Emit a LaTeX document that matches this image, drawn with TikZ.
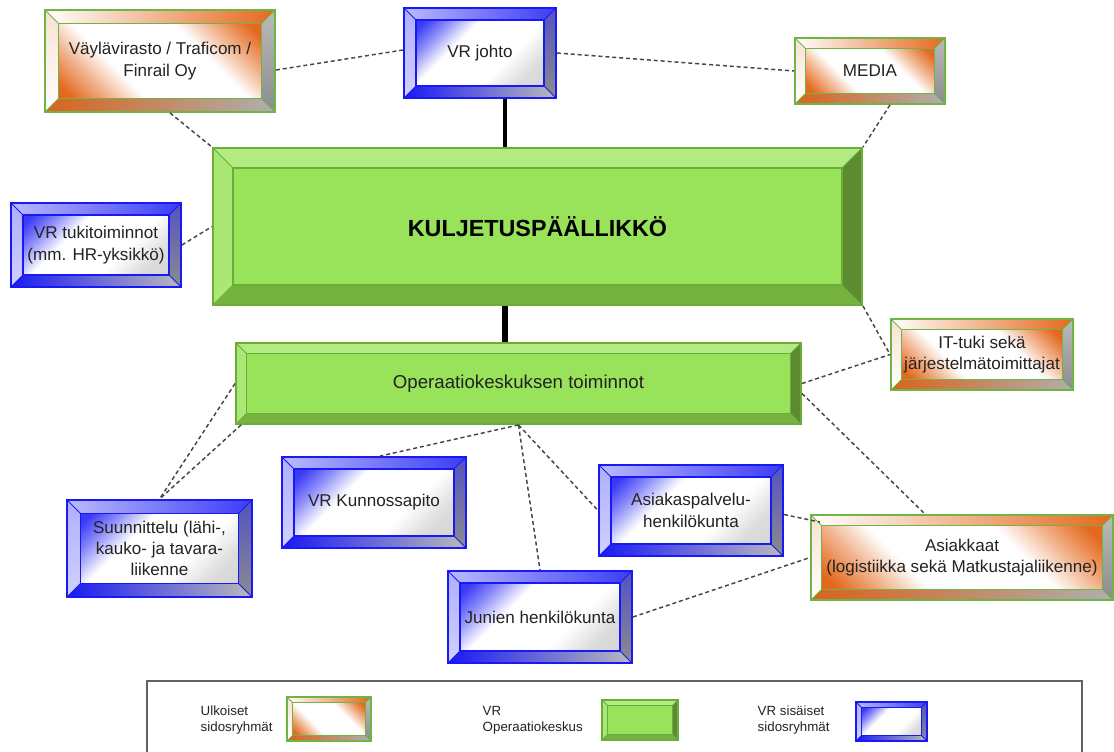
\documentclass[tikz,border=0pt]{standalone}
\usepackage{fontspec}
\setmainfont{Liberation Sans}
\usetikzlibrary{calc}

\definecolor{vface}{RGB}{152,227,90}
\definecolor{vtop}{RGB}{178,235,130}
\definecolor{vleft}{RGB}{170,232,118}
\definecolor{vbot}{RGB}{118,178,62}
\definecolor{vright}{RGB}{92,140,48}
\definecolor{vline}{RGB}{108,172,58}
\definecolor{oranssi}{RGB}{228,105,30}
\definecolor{oline}{RGB}{112,180,70}
\definecolor{sini}{RGB}{25,25,245}
\definecolor{harmaa}{RGB}{140,140,140}
\definecolor{teksti}{RGB}{35,35,35}
\definecolor{katko}{RGB}{70,70,70}

% pintojen liukuvärit
\pgfdeclarehorizontalshading{opinta}{100bp}{color(0bp)=(oranssi); color(18bp)=(oranssi);
  color(27bp)=(oranssi!55); color(37bp)=(white); color(63bp)=(white);
  color(73bp)=(oranssi!55); color(82bp)=(oranssi); color(100bp)=(oranssi)}
\pgfdeclarehorizontalshading{spinta}{100bp}{color(0bp)=(sini!90); color(18bp)=(sini!85);
  color(27bp)=(sini!50); color(38bp)=(white); color(62bp)=(white);
  color(75bp)=(harmaa!30); color(100bp)=(harmaa!45)}

% viistetty laatikko: pinta, ylä, vasen, ala, oikea, viivan väri
\newcommand{\viiste}[6]{%
  \path (path picture bounding box.north west) coordinate (nw)
        (path picture bounding box.north east) coordinate (ne)
        (path picture bounding box.south west) coordinate (sw)
        (path picture bounding box.south east) coordinate (se)
        ($(nw)+(\bevw,-\bevw)$) coordinate (inw)
        ($(ne)+(-\bevw,-\bevw)$) coordinate (ine)
        ($(sw)+(\bevw,\bevw)$) coordinate (isw)
        ($(se)+(-\bevw,\bevw)$) coordinate (ise);
  \path[#1] (inw) rectangle (ise);
  \path[#2] (nw) -- (ne) -- (ine) -- (inw) -- cycle;
  \path[#3] (nw) -- (inw) -- (isw) -- (sw) -- cycle;
  \path[#4] (sw) -- (isw) -- (ise) -- (se) -- cycle;
  \path[#5] (se) -- (ise) -- (ine) -- (ne) -- cycle;
  \draw[#6, line width=0.8pt] (inw) rectangle (ise);
  \draw[#6, line width=0.6pt] (nw) -- (inw) (ne) -- (ine) (sw) -- (isw) (se) -- (ise);
}

\tikzset{
  viistys/.store in=\bevw, viistys=9pt,
  koko/.style 2 args={minimum width=#1*0.75pt, minimum height=#2*0.75pt},
  boksi/.style={rectangle, inner sep=2pt, align=center, text=teksti,
    line width=1.4pt, font=\fontsize{12.8}{16}\selectfont},
  vihrea/.style={boksi, draw=vline, fill=vface,
    path picture={\viiste{fill=vface}{fill=vtop}{fill=vleft}{fill=vbot}{fill=vright}{vline}}},
  oranssi/.style={boksi, draw=oline, fill=white,
    path picture={\viiste
      {shade, shading=opinta, shading angle=45}
      {left color=white, right color=oranssi}
      {top color=oranssi!20, bottom color=white}
      {left color=oranssi!95!black, right color=harmaa!70}
      {top color=harmaa!60, bottom color=harmaa}
      {oline}}},
  sininen/.style={boksi, draw=sini, fill=white,
    path picture={\viiste
      {shade, shading=spinta, shading angle=-45}
      {left color=sini!30, right color=sini!85}
      {top color=sini!35, bottom color=sini!20}
      {left color=sini, right color=harmaa!60}
      {top color=sini!50!harmaa, bottom color=harmaa}
      {sini}}},
  katkoviiva/.style={draw=katko, line width=1.1pt, dash pattern=on 3pt off 2.2pt},
  runko/.style={draw=black},
  selite/.style={anchor=west, align=left, text=teksti, font=\fontsize{10}{12}\selectfont},
}

\begin{document}
\begin{tikzpicture}[x=0.75pt, y=-0.75pt]
  \useasboundingbox (0,0) rectangle (1114,751);

  % ylärivi
  \node[oranssi, koko={230}{102}, viistys=10pt] (vayla) at (160,61) {Väylävirasto / Traficom /\\ Finrail Oy};
  \node[sininen, koko={152}{90}] (johto) at (480,53) {VR johto};
  \node[oranssi, koko={150}{66}, viistys=8pt] (media) at (870,71) {MEDIA};

  \node[vihrea, koko={649}{157}, viistys=15pt, font=\fontsize{17.5}{20}\selectfont\bfseries, text=black]
    (kulj) at (537.5,226.5) {KULJETUSPÄÄLLIKKÖ};
  \node[sininen, koko={170}{84}] (tuki) at (96,245) {VR tukitoiminnot\\ (mm. HR-yksikkö)};

  \node[oranssi, koko={182}{71}, viistys=8pt] (ittuki) at (982,354.5) {IT-tuki sekä\\ järjestelmätoimittajat};
  \node[vihrea, koko={565}{81}, viistys=8pt, font=\fontsize{14}{16}\selectfont]
    (opera) at (518.5,383.5) {Operaatiokeskuksen toiminnot};

  % alarivi
  \node[sininen, koko={184}{91}] (kunnos) at (374,502.5) {VR Kunnossapito};
  \node[sininen, koko={185}{97}, viistys=10pt] (suunn) at (159.5,548.5) {Suunnittelu (lähi-,\\ kauko- ja tavara-\\ liikenne};
  \node[sininen, koko={184}{91}] (asiakasp) at (691,510.5) {Asiakaspalvelu-\\ henkilökunta};
  \node[oranssi, koko={302}{85}, viistys=8pt] (asiakkaat) at (962,557.5) {Asiakkaat\\ (logistiikka sekä Matkustajaliikenne)};
  \node[sininen, koko={184}{92}] (junien) at (540,617) {Junien henkilökunta};

  % yhteydet
  \coordinate (akseli) at (505,0);
  \draw[runko, line width=3pt] (johto.south -| akseli) -- (kulj.north -| akseli);
  \draw[runko, line width=5pt] (kulj.south -| akseli) -- (opera.north -| akseli);

  \draw[katkoviiva] ($(vayla.east)+(0,9)$) -- ($(johto.west)+(0,-3)$);
  \draw[katkoviiva] (johto.east) -- (media.west);
  \draw[katkoviiva] ($(vayla.south)+(10,0)$) -- (kulj.north west);
  \draw[katkoviiva] ($(media.south)+(20,0)$) -- (kulj.north east);
  \draw[katkoviiva] (tuki.east) -- (kulj.west);
  \draw[katkoviiva] (kulj.south east) -- (ittuki.west);
  \draw[katkoviiva] (opera.east) -- (ittuki.west);
  \draw[katkoviiva] (opera.west) -- (suunn.north);
  \draw[katkoviiva] ($(opera.south west)+(6,0)$) -- (suunn.north);
  \draw[katkoviiva] (opera.south) -- ($(kunnos.north)+(6,0)$);
  \draw[katkoviiva] (opera.south) -- (junien.north);
  \draw[katkoviiva] (opera.south) -- (asiakasp.west);
  \draw[katkoviiva] ($(opera.east)+(0,10)$) -- ($(asiakkaat.north)+(-37,0)$);
  \draw[katkoviiva] ($(asiakasp.east)+(0,4)$) -- ($(asiakkaat.north west)+(10,8)$);
  \draw[katkoviiva] (junien.east) -- (asiakkaat.west);

  % selite
  \draw[harmaa!70!black, line width=1pt] (147,760) |- (1082,681) -- (1082,760);
  \node[selite] (s1) at (196,720) {Ulkoiset\\ sidosryhmät};
  \node[oranssi, koko={84}{44}, viistys=4pt, line width=1pt] (l1) at (329,719) {};
  \node[selite] (s2) at (478,720) {VR\\ Operaatiokeskus};
  \node[vihrea, koko={76}{40}, viistys=4pt, line width=1pt] (l2) at (640,720) {};
  \node[selite] (s3) at (753,720) {VR sisäiset\\ sidosryhmät};
  \node[sininen, koko={71}{39}, viistys=4pt, line width=1pt] (l3) at (891.5,721.5) {};
\end{tikzpicture}
\end{document}
